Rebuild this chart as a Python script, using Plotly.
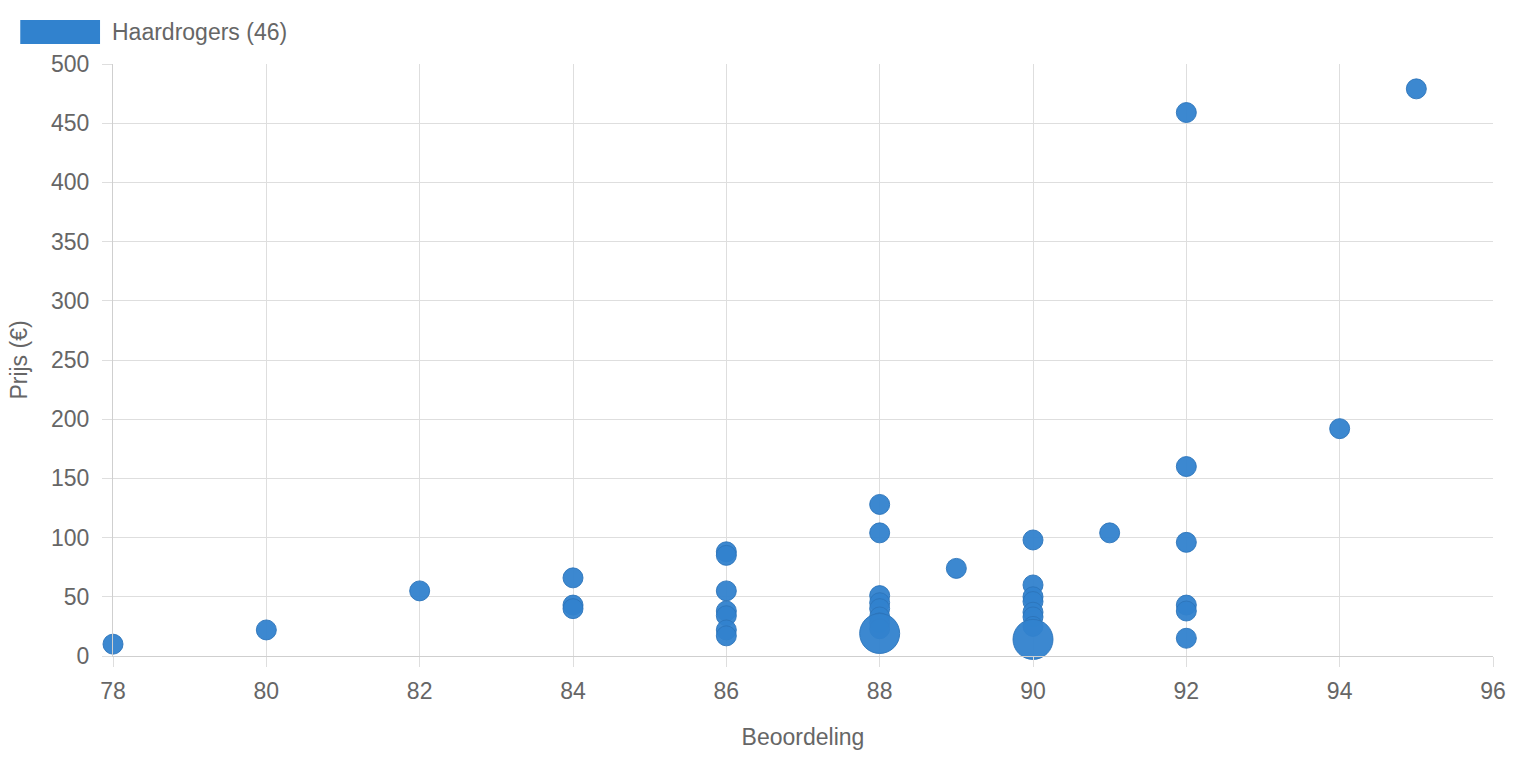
import plotly.graph_objects as go

# Data: rating (Beoordeling), price (Prijs €), bubble radius
rating = [78, 80, 82,
          84, 84, 84,
          86, 86, 86, 86, 86, 86, 86,
          88, 88, 88, 88, 88, 88, 88, 88, 88,
          89,
          90, 90, 90, 90, 90, 90, 90, 90,
          91,
          92, 92, 92, 92, 92, 92,
          94, 95]
price = [10, 22, 55,
         66, 43, 40,
         88, 85, 55, 38, 34, 22, 17,
         128, 104, 51, 45, 40, 33, 28, 23, 19,
         74,
         98, 60, 50, 46, 37, 33, 25, 14,
         104,
         459, 160, 96, 43, 38, 15,
         192, 479]
radius = [10, 10, 10,
          10, 10, 10,
          10, 10, 10, 10, 10, 10, 10,
          10, 10, 10, 10, 10, 10, 10, 10, 20,
          10,
          10, 10, 10, 10, 10, 10, 10, 20,
          10,
          10, 10, 10, 10, 10, 10,
          10, 10]

series_name = "Haardrogers (46)"
x_ticks = list(range(78, 97, 2))
y_ticks = list(range(0, 501, 50))

FONT = "Liberation Sans, Arial, Helvetica, sans-serif"
GRAY = "#666666"
GRID = "#dedede"
FS = 23

fig = go.Figure()
fig.add_trace(go.Scatter(
    x=rating, y=price, mode="markers", name=series_name,
    marker=dict(size=[2 * r for r in radius], sizemode="diameter", opacity=1,
                color="rgba(49,130,206,0.95)",
                line=dict(color="rgba(44,116,186,0.9)", width=1)),
    showlegend=False, cliponaxis=False,
))

W, H = 1518, 758
L, R, T, B = 113, 21, 64, 102
pw, ph = W - L - R, H - T - B

def px_x(p):
    return (p - L) / pw

def px_y(p):
    return (H - B - p) / ph

# legend box + text
fig.add_shape(type="rect", xref="paper", yref="paper",
              x0=px_x(20), x1=px_x(100), y0=px_y(44), y1=px_y(20),
              fillcolor="#3182ce", line=dict(color="#3182ce", width=0))
fig.add_annotation(xref="paper", yref="paper", x=px_x(110), y=px_y(32),
                   text=series_name, showarrow=False, xanchor="left", yanchor="middle",
                   font=dict(family=FONT, size=FS, color=GRAY))

fig.update_layout(
    width=W, height=H,
    margin=dict(l=L, r=R, t=T, b=B, pad=0),
    paper_bgcolor="white", plot_bgcolor="white",
    font=dict(family=FONT, size=FS, color=GRAY),
    xaxis=dict(range=[78, 96], tickvals=x_ticks, ticktext=[str(v) for v in x_ticks],
               showgrid=True, gridcolor=GRID, gridwidth=1,
               ticks="outside", ticklen=10, tickcolor=GRID,
               showline=True, linecolor="#cfcfcf", linewidth=1,
               zeroline=False, mirror=False, ticklabelstandoff=4,
               title=dict(text="Beoordeling", font=dict(size=FS, color=GRAY), standoff=26),
               tickfont=dict(size=FS, color=GRAY)),
    yaxis=dict(range=[0, 500], tickvals=y_ticks, ticktext=[str(v) for v in y_ticks],
               showgrid=True, gridcolor=GRID, gridwidth=1,
               ticks="outside", ticklen=10, tickcolor=GRID,
               showline=True, linecolor="#cfcfcf", linewidth=1,
               zeroline=False, ticklabelstandoff=8,
               title=dict(text="Prijs (€)", font=dict(size=FS, color=GRAY), standoff=16),
               tickfont=dict(size=FS, color=GRAY)),
)

fig.write_html("out.html")
